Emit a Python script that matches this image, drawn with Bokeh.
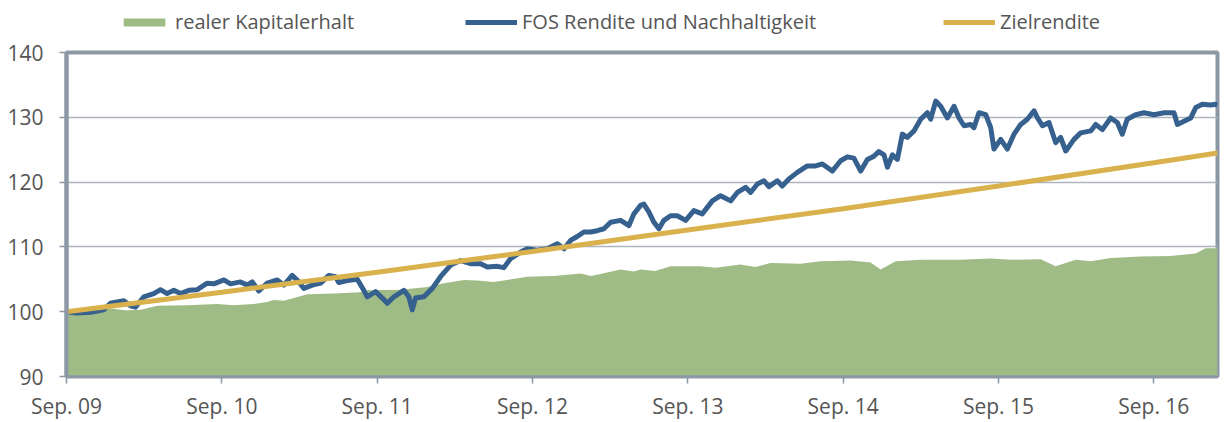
from bokeh.plotting import figure
from bokeh.layouts import column
from bokeh.models import Range1d, FixedTicker, Legend, LegendItem, ColumnDataSource
from bokeh.embed import file_html
from bokeh.resources import INLINE

# ---------------- data ----------------
tick_pos = [0, 1, 2, 3, 4, 5, 6, 7]
tick_labels = ["Sep. 09", "Sep. 10", "Sep. 11", "Sep. 12", "Sep. 13", "Sep. 14", "Sep. 15", "Sep. 16"]
y_ticks = [90, 100, 110, 120, 130, 140]

# years since Sep. 09
fos_t = [0.000, 0.064, 0.155, 0.240, 0.283, 0.369, 0.412, 0.444, 0.498, 0.562, 0.605, 0.648, 0.691,
         0.734, 0.788, 0.842, 0.906, 0.949, 1.013, 1.056, 1.120, 1.164, 1.196, 1.238, 1.292, 1.357,
         1.399, 1.453, 1.496, 1.528, 1.582, 1.636, 1.689, 1.732, 1.753, 1.807, 1.872, 1.914, 1.936,
         1.990, 2.033, 2.065, 2.108, 2.172, 2.204, 2.226, 2.247, 2.301, 2.355, 2.408, 2.473, 2.537,
         2.601, 2.666, 2.709, 2.773, 2.816, 2.859, 2.923, 2.967, 3.031, 3.095, 3.160, 3.203, 3.245,
         3.288, 3.331, 3.374, 3.417, 3.460, 3.503, 3.567, 3.621, 3.653, 3.696, 3.717, 3.749, 3.782,
         3.814, 3.846, 3.889, 3.932, 3.986, 4.039, 4.093, 4.158, 4.211, 4.276, 4.319, 4.372, 4.404,
         4.448, 4.490, 4.522, 4.576, 4.608, 4.651, 4.705, 4.769, 4.823, 4.866, 4.930, 4.984, 5.027,
         5.069, 5.113, 5.156, 5.198, 5.230, 5.263, 5.285, 5.317, 5.349, 5.381, 5.413, 5.456, 5.499,
         5.542, 5.563, 5.596, 5.628, 5.671, 5.714, 5.746, 5.778, 5.821, 5.842, 5.874, 5.918, 5.950,
         5.971, 6.014, 6.057, 6.100, 6.143, 6.186, 6.229, 6.251, 6.283, 6.325, 6.368, 6.400, 6.433,
         6.486, 6.529, 6.594, 6.626, 6.669, 6.722, 6.765, 6.797, 6.829, 6.883, 6.937, 7.001, 7.066,
         7.130, 7.152, 7.194, 7.238, 7.270, 7.313, 7.366, 7.399, 7.410]
fos_v = [100.0, 99.8, 99.9, 100.3, 101.3, 101.7, 100.9, 100.7, 102.3, 102.8, 103.4, 102.8, 103.3,
         102.8, 103.3, 103.4, 104.4, 104.3, 104.9, 104.3, 104.6, 104.1, 104.6, 103.2, 104.4, 104.9,
         104.1, 105.6, 104.6, 103.6, 104.1, 104.4, 105.6, 105.4, 104.5, 104.8, 105.0, 103.3, 102.3,
         103.1, 102.1, 101.3, 102.3, 103.3, 102.3, 100.3, 102.1, 102.3, 103.6, 105.4, 107.2, 107.9,
         107.4, 107.4, 106.9, 107.0, 106.8, 108.2, 109.2, 109.7, 109.5, 109.7, 110.5, 109.7, 111.0,
         111.6, 112.3, 112.3, 112.5, 112.8, 113.8, 114.1, 113.3, 115.1, 116.4, 116.6, 115.4, 113.8,
         112.8, 114.1, 114.8, 114.8, 114.1, 115.6, 115.1, 117.1, 117.9, 117.1, 118.4, 119.2, 118.4,
         119.7, 120.2, 119.3, 120.2, 119.4, 120.5, 121.5, 122.5, 122.5, 122.8, 121.7, 123.3, 123.9,
         123.7, 121.7, 123.5, 124.0, 124.7, 124.2, 122.3, 124.2, 123.5, 127.4, 126.9, 127.9, 129.7,
         130.7, 129.7, 132.5, 131.7, 129.9, 131.7, 129.9, 128.7, 128.9, 128.4, 130.7, 130.4, 128.4,
         125.1, 126.6, 125.1, 127.4, 128.9, 129.7, 131.0, 129.9, 128.7, 129.2, 126.1, 126.9, 124.8,
         126.6, 127.6, 127.9, 128.9, 128.1, 129.9, 129.2, 127.4, 129.7, 130.4, 130.7, 130.4, 130.7,
         130.7, 128.9, 129.4, 129.9, 131.5, 132.0, 131.9, 132.0, 131.8]

kap_t = [0.000, 0.174, 0.283, 0.391, 0.477, 0.584, 0.777, 0.970, 1.075, 1.206, 1.292, 1.335, 1.399,
         1.464, 1.550, 1.720, 1.893, 1.936, 2.151, 2.323, 2.430, 2.559, 2.645, 2.750, 2.837, 2.967,
         3.138, 3.310, 3.374, 3.438, 3.567, 3.653, 3.696, 3.790, 3.889, 4.082, 4.179, 4.340, 4.436,
         4.533, 4.726, 4.855, 5.048, 5.177, 5.241, 5.338, 5.499, 5.757, 5.950, 6.079, 6.272, 6.368,
         6.497, 6.594, 6.722, 6.915, 7.108, 7.270, 7.334, 7.410]
kap_v = [99.8, 99.8, 100.5, 100.2, 100.3, 100.9, 101.0, 101.2, 101.0, 101.2, 101.5, 101.8, 101.7,
         102.1, 102.7, 102.8, 103.0, 103.3, 103.4, 103.8, 104.4, 104.9, 104.8, 104.6, 104.9, 105.4,
         105.5, 105.9, 105.5, 105.8, 106.5, 106.2, 106.5, 106.3, 107.0, 107.0, 106.8, 107.3, 106.9,
         107.5, 107.4, 107.8, 107.9, 107.6, 106.5, 107.8, 108.0, 108.0, 108.2, 108.0, 108.1, 107.0,
         108.0, 107.8, 108.3, 108.5, 108.6, 109.0, 109.8, 109.8]

ziel_t = [0, 1, 2, 3, 4, 5, 6, 7, 7.41]
ziel_v = [100.0, 103.0, 106.1, 109.3, 112.6, 115.9, 119.4, 123.0, 124.5]

legend_labels = ["realer Kapitalerhalt", "FOS Rendite und Nachhaltigkeit", "Zielrendite"]

# ---------------- styling ----------------
FONT = "Open Sans"
TEXT = "#555555"
FRAME = "#8c99a5"
GRID = "#aeb5bc"
GREEN = "#9fbb86"
BLUE = "#36618f"
GOLD = "#d9b24e"

# ---- main chart ----
p = figure(width=1225, height=384, x_range=Range1d(0, 7.41), y_range=Range1d(90, 140),
           output_backend="svg", toolbar_location=None,
           min_border_left=66, min_border_right=8, min_border_top=14, min_border_bottom=45)
p.outline_line_color = FRAME
p.outline_line_width = 4
p.background_fill_color = "white"
p.border_fill_color = "white"

kap_src = ColumnDataSource(dict(t=kap_t, v=kap_v, base=[90] * len(kap_t)))
p.varea(x="t", y1="base", y2="v", source=kap_src, fill_color=GREEN)
p.line(fos_t, fos_v, line_color=BLUE, line_width=5, line_join="round")
p.line(ziel_t, ziel_v, line_color=GOLD, line_width=5)

p.xgrid.visible = False
p.ygrid.ticker = FixedTicker(ticks=y_ticks)
p.ygrid.grid_line_color = GRID
p.ygrid.grid_line_width = 1.5

xa = p.xaxis[0]
xa.ticker = FixedTicker(ticks=tick_pos)
xa.major_label_overrides = {t: l for t, l in zip(tick_pos, tick_labels)}
ya = p.yaxis[0]
ya.ticker = FixedTicker(ticks=y_ticks)
for ax in (xa, ya):
    ax.minor_tick_line_color = None
    ax.major_tick_in = 0
    ax.major_tick_out = 7
    ax.major_tick_line_color = FRAME
    ax.major_tick_line_width = 1.5
    ax.axis_line_color = FRAME
    ax.major_label_text_font = FONT
    ax.major_label_text_font_size = "21px"
    ax.major_label_text_color = TEXT
xa.axis_line_width = 2.5
ya.axis_line_width = 4
xa.major_label_standoff = 8
ya.major_label_standoff = 16

# ---- legend strip (its frame is aligned with the chart frame by the column layout) ----
lf = figure(width=1225, height=38, x_range=Range1d(0, 1), y_range=Range1d(0, 1),
            output_backend="svg", toolbar_location=None, x_axis_type=None, y_axis_type=None,
            min_border_left=66, min_border_right=8, min_border_top=0, min_border_bottom=0)
lf.outline_line_color = None
lf.grid.visible = False
lf.background_fill_color = "white"
lf.border_fill_color = "white"
# legend swatches only: their points lie outside the visible range
g_kap = lf.varea(x=[-5, -4], y1=[-5, -5], y2=[-4, -4], fill_color=GREEN)
g_fos = lf.line(x=[-5, -4], y=[-5, -4], line_color=BLUE, line_width=5)
g_ziel = lf.line(x=[-5, -4], y=[-5, -4], line_color=GOLD, line_width=5)

for lab, r, xoff in zip(legend_labels, [g_kap, g_fos, g_ziel], [52, 399, 877]):
    lg = Legend(items=[LegendItem(label=lab, renderers=[r])], location=(xoff, 3),
                orientation="horizontal", glyph_width=52, glyph_height=10, label_standoff=5,
                padding=0, margin=0, border_line_alpha=0, background_fill_alpha=0,
                label_text_font=FONT, label_text_font_size="20px", label_text_color=TEXT)
    lf.add_layout(lg, "center")

layout = column(lf, p, spacing=0)
open("out.html", "w").write(file_html(layout, INLINE))
